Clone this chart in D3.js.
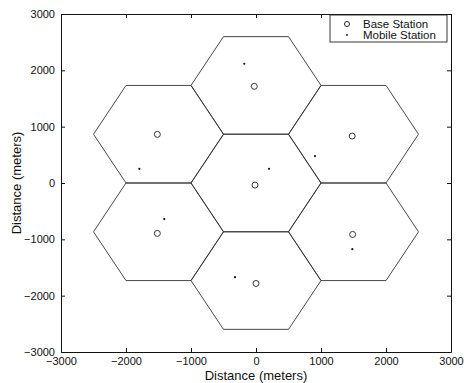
<!DOCTYPE html>
<html>
<head>
<meta charset="utf-8">
<script src="https://cdn.jsdelivr.net/npm/d3@7"></script>
<style>
  body { margin: 0; background: #fff; }
  text { font-family: "Liberation Sans", Arial, sans-serif; fill: #111; }
</style>
</head>
<body>
<svg id="chart" width="464" height="383"></svg>
<script>
// cell centres (m) and hexagon radius
var cellX = [0, 0, 1500, 1500, 0, -1500, -1500];
var cellY = [0, 1732, 866, -866, -1732, -866, 866];
var cellRadius = 1000;

// base stations
var baseX = [-15, -26, 1480, 1487, 0, -1518, -1518];
var baseY = [-37, 1716, 833, -913, -1783, -895, 863];

// mobile stations
var mobileX = [200, -180, 908, 1482, -323, -1411, -1795];
var mobileY = [252, 2117, 478, -1174, -1671, -641, 252];

var tickValues = [-3000, -2000, -1000, 0, 1000, 2000, 3000];
var legendLabels = ["Base Station", "Mobile Station"];

var margin = { left: 61, right: 13, top: 14, bottom: 31 };
var width = 464 - margin.left - margin.right;
var height = 383 - margin.top - margin.bottom;

var svg = d3.select("#chart");
var g = svg.append("g").attr("transform", "translate(" + margin.left + "," + margin.top + ")");

var x = d3.scaleLinear().domain([-3000, 3000]).range([0, width]);
var y = d3.scaleLinear().domain([-3000, 3000]).range([height, 0]);
var fmt = d3.format("d");

// hexagons
var hexes = cellX.map(function (cx, i) {
    var pts = d3.range(7).map(function (k) {
        var a = Math.PI / 3 * k;
        return [x(cx + cellRadius * Math.cos(a)), y(cellY[i] + cellRadius * Math.sin(a))];
    });
    return pts;
});

g.selectAll(".hex")
    .data(hexes)
    .enter().append("path")
    .attr("class", "hex")
    .attr("d", d3.line())
    .attr("fill", "none")
    .attr("stroke", "#333")
    .attr("stroke-width", 0.9)

// base stations
g.selectAll(".base")
    .data(baseX)
    .enter().append("circle")
    .attr("class", "base")
    .attr("cx", function (d) { return x(d); })
    .attr("cy", function (d, i) { return y(baseY[i]); })
    .attr("r", 3)
    .attr("fill", "none")
    .attr("stroke", "#222")
    .attr("stroke-width", 0.9)

// mobile stations
g.selectAll(".mobile")
    .data(mobileX)
    .enter().append("circle")
    .attr("class", "mobile")
    .attr("cx", function (d) { return x(d); })
    .attr("cy", function (d, i) { return y(mobileY[i]); })
    .attr("r", 1.1)
    .attr("fill", "#111")

// axes, ticks pointing inward on all four sides
function styleAxis(sel) {
    sel.select(".domain").attr("stroke", "#111");
    sel.selectAll(".tick line").attr("stroke", "#111");
    sel.selectAll("text").style("font-size", "11px").attr("fill", "#111");
}

g.append("g")
    .attr("transform", "translate(0," + height + ")")
    .call(d3.axisBottom(x).tickValues(tickValues).tickFormat(fmt).tickSizeInner(-4).tickSizeOuter(0).tickPadding(5))
    .call(styleAxis)

g.append("g")
    .call(d3.axisLeft(y).tickValues(tickValues).tickFormat(fmt).tickSizeInner(-4).tickSizeOuter(0).tickPadding(6))
    .call(styleAxis)

g.append("g")
    .call(d3.axisTop(x).tickValues(tickValues).tickSizeInner(-4).tickSizeOuter(0).tickFormat(""))
    .call(styleAxis)

g.append("g")
    .attr("transform", "translate(" + width + ",0)")
    .call(d3.axisRight(y).tickValues(tickValues).tickSizeInner(-4).tickSizeOuter(0).tickFormat(""))
    .call(styleAxis)

// axis titles
svg.append("text")
    .attr("x", margin.left + width / 2)
    .attr("y", 380)
    .attr("text-anchor", "middle")
    .style("font-size", "13px")
    .text("Distance (meters)")

svg.append("text")
    .attr("transform", "translate(21," + (margin.top + height / 2) + ") rotate(-90)")
    .attr("text-anchor", "middle")
    .style("font-size", "13px")
    .text("Distance (meters)")

// legend
var legend = svg.append("g").attr("transform", "translate(330,15)");
legend.append("rect")
    .attr("width", 117)
    .attr("height", 27)
    .attr("fill", "#fff")
    .attr("stroke", "#222")
    .attr("stroke-width", 0.9)

legend.append("circle")
    .attr("cx", 17).attr("cy", 9).attr("r", 2.5)
    .attr("fill", "none").attr("stroke", "#222")
legend.append("circle")
    .attr("cx", 17).attr("cy", 20).attr("r", 0.9)
    .attr("fill", "#111")

legend.selectAll(".lbl")
    .data(legendLabels)
    .enter().append("text")
    .attr("class", "lbl")
    .attr("x", 33)
    .attr("y", function (d, i) { return 13 + i * 11; })
    .style("font-size", "11.5px")
    .text(function (d) { return d; })
</script>
</body>
</html>
